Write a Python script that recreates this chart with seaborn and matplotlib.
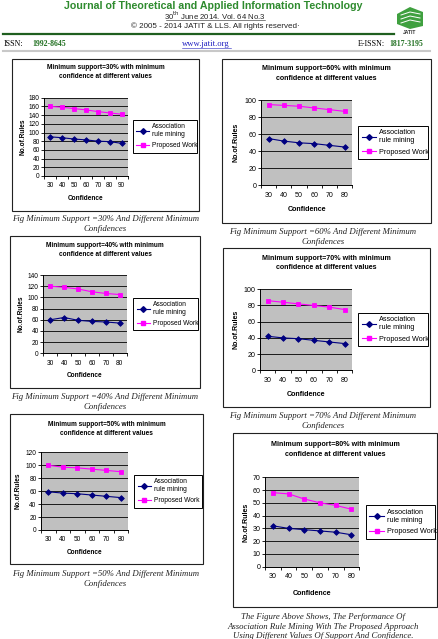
import numpy as np
import pandas as pd
import matplotlib
matplotlib.use("Agg")
import matplotlib.pyplot as plt
import seaborn as sns
from matplotlib.lines import Line2D
from matplotlib.patches import Rectangle, Polygon

# ---- data ----
conf_7 = [30, 40, 50, 60, 70, 80, 90]
conf_6 = [30, 40, 50, 60, 70, 80]

assoc_30 = [90, 88, 85, 83, 80, 79, 75]
proposed_30 = [160, 158, 155, 152, 148, 145, 142]
assoc_40 = [60, 64, 59, 57, 56, 54]
proposed_40 = [120, 118, 115, 110, 107, 105]
assoc_50 = [59, 57, 56, 54, 52, 50]
proposed_50 = [100, 97, 96, 94, 92, 90]
assoc_60 = [55, 52, 50, 49, 47, 45]
proposed_60 = [95, 94, 93, 91, 89, 87]
assoc_70 = [42, 40, 39, 37, 35, 33]
proposed_70 = [86, 84, 82, 80, 78, 75]
assoc_80 = [32, 30, 29, 28, 27, 25]
proposed_80 = [58, 57, 53, 50, 48, 45]

ASSOC = "Association\nrule mining"
PROP = "Proposed Work"
NAVY = "#000080"
MAGENTA = "#FF00FF"
PLOT_BG = "#C0C0C0"
GREEN = "#2E8B2E"

W, H = 438, 639


def fx(x):
    return x / W


def fy(y):
    return 1 - y / H


def rect(x0, x1, y0, y1):
    return [x0 / W, 1 - y1 / H, (x1 - x0) / W, (y1 - y0) / H]


charts = [
    dict(sup="30%", conf=conf_7, assoc=assoc_30, prop=proposed_30, ymax=180, step=20,
         box=(12, 199, 59, 211), plot=(44.3, 127.7, 97.7, 176), leg=(132.7, 196.7, 116, 156.7),
         title_y=(67.7, 76.7), ylab_x=23, xlab_y=198.7, cap_y=(219, 229), cap_x=105.5,
         cap=["Fig Minimum Support =30% And Different Minimum", "Confidences"], big=False),
    dict(sup="60%", conf=conf_6, assoc=assoc_60, prop=proposed_60, ymax=100, step=20,
         box=(222.3, 430.7, 59, 222.7), plot=(261, 352.3, 100.3, 185.3), leg=(358.3, 428.3, 120.7, 164),
         title_y=(68.7, 78.7), ylab_x=236, xlab_y=209, cap_y=(231.7, 241.7), cap_x=323,
         cap=["Fig Minimum Support =60% And Different Minimum", "Confidences"], big=True),
    dict(sup="40%", conf=conf_6, assoc=assoc_40, prop=proposed_40, ymax=140, step=20,
         box=(10, 200, 236, 388.3), plot=(43.3, 126.7, 275, 353.3), leg=(133.3, 198.3, 294.3, 334),
         title_y=(245.3, 254.7), ylab_x=20.7, xlab_y=375.3, cap_y=(396.7, 407), cap_x=105,
         cap=["Fig Minimum Support =40% And Different Minimum", "Confidences"], big=False),
    dict(sup="70%", conf=conf_6, assoc=assoc_70, prop=proposed_70, ymax=100, step=20,
         box=(223.3, 430, 248.3, 407.3), plot=(260, 352.3, 289.3, 370.3), leg=(358.3, 428.3, 309, 350),
         title_y=(258, 267.7), ylab_x=236, xlab_y=394.3, cap_y=(416, 426), cap_x=323,
         cap=["Fig Minimum Support =70% And Different Minimum", "Confidences"], big=True),
    dict(sup="50%", conf=conf_6, assoc=assoc_50, prop=proposed_50, ymax=120, step=20,
         box=(10, 203, 414.3, 564.3), plot=(41, 128.3, 452.3, 530), leg=(134.3, 201.7, 471.7, 510.7),
         title_y=(424, 433.3), ylab_x=18.3, xlab_y=552, cap_y=(574, 584), cap_x=105.5,
         cap=["Fig Minimum Support =50% And Different Minimum", "Confidences"], big=False),
    dict(sup="80%", conf=conf_6, assoc=assoc_80, prop=proposed_80, ymax=70, step=10,
         box=(233.3, 437.3, 433.3, 607.3), plot=(265, 359.3, 477.3, 566.7), leg=(365.7, 435, 499, 545.3),
         title_y=(444.3, 454.3), ylab_x=245.7, xlab_y=593.3, cap_y=(616.7, 626.7, 636), cap_x=323,
         cap=["The Figure Above Shows, The Performance Of",
              "Association Rule Mining With The Proposed Approach",
              "Using Different Values Of Support And Confidence."], big=True),
]

plt.rcParams["font.family"] = ["Liberation Sans", "DejaVu Sans"]

fig = plt.figure(figsize=(W / 100, H / 100), dpi=100)
fig.patch.set_facecolor("white")


def draw_chart(spec):
    fs = 5.1 if spec["big"] else 4.7
    n = len(spec["conf"])
    df = pd.DataFrame({
        "Confidence": spec["conf"] * 2,
        "Rules": spec["assoc"] + spec["prop"],
        "Series": [ASSOC] * n + [PROP] * n,
    })

    bx0, bx1, by0, by1 = spec["box"]
    fig.patches.append(Rectangle((fx(bx0), fy(by1)), (bx1 - bx0) / W, (by1 - by0) / H,
                                 transform=fig.transFigure, fill=False, lw=0.8,
                                 edgecolor="#222222"))

    ax = fig.add_axes(rect(*spec["plot"]))
    ax.set_facecolor(PLOT_BG)
    sns.pointplot(data=df, x="Confidence", y="Rules", hue="Series",
                  hue_order=[ASSOC, PROP], palette=[NAVY, MAGENTA],
                  markers=["D", "s"], linestyles=["-", "-"], errorbar=None,
                  legend=False, markersize=2.9, linewidth=0.8, ax=ax)
    ax.set_xlim(-0.5, n - 0.5)
    ax.set_ylim(0, spec["ymax"])
    ax.set_yticks(np.arange(0, spec["ymax"] + 1, spec["step"]))
    ax.set_xticks(np.arange(n + 1) - 0.5, minor=True)
    ax.tick_params(axis="x", which="major", length=0, pad=4.5, labelsize=fs)
    ax.tick_params(axis="x", which="minor", length=2, width=0.6, direction="out")
    ax.tick_params(axis="y", length=2, width=0.6, pad=1.2, labelsize=fs)
    ax.yaxis.grid(True, color="black", lw=0.6)
    ax.xaxis.grid(False)
    ax.set_axisbelow(True)
    for s in ["top", "right"]:
        ax.spines[s].set_visible(False)
    for s in ["left", "bottom"]:
        ax.spines[s].set_linewidth(0.7)
        ax.spines[s].set_color("black")
    ax.set_xlabel("")
    ax.set_ylabel("")

    handles = [Line2D([], [], color=NAVY, marker="D", ms=2.9, lw=0.8),
               Line2D([], [], color=MAGENTA, marker="s", ms=2.9, lw=0.8)]
    lx0, lx1, ly0, ly1 = spec["leg"]
    leg = ax.legend(handles, [ASSOC, PROP], loc="center",
                    bbox_to_anchor=(fx(lx0), fy(ly1), (lx1 - lx0) / W, (ly1 - ly0) / H),
                    bbox_transform=fig.transFigure, mode="expand", fontsize=fs + 0.1,
                    frameon=True, fancybox=False, edgecolor="black", framealpha=1,
                    borderpad=0.5, labelspacing=0.6, handlelength=2.0,
                    handletextpad=0.4, borderaxespad=0)
    leg.get_frame().set_linewidth(0.7)

    cx = (bx0 + bx1) / 2
    fig.text(fx(cx), fy(spec["title_y"][0]),
             f"Minimum support={spec['sup']} with minimum",
             ha="center", va="center", fontsize=fs, fontweight="bold")
    fig.text(fx(cx), fy(spec["title_y"][1]), "confidence at different values",
             ha="center", va="center", fontsize=fs, fontweight="bold")

    px0, px1, py0, py1 = spec["plot"]
    fig.text(fx(spec["ylab_x"]), fy((py0 + py1) / 2), "No.of.Rules", rotation=90,
             ha="center", va="center", fontsize=fs, fontweight="bold")
    fig.text(fx((px0 + px1) / 2), fy(spec["xlab_y"]), "Confidence",
             ha="center", va="center", fontsize=fs, fontweight="bold")

    for line, yy in zip(spec["cap"], spec["cap_y"]):
        fig.text(fx(spec["cap_x"]), fy(yy), line, ha="center", va="center",
                 fontsize=6.3, style="italic", family="Liberation Serif", color="#222222")


for spec in charts:
    draw_chart(spec)

# ---- page header ----
fig.text(fx(213), fy(5.7), "Journal of Theoretical and Applied Information Technology",
         ha="center", va="center", fontsize=7.7, fontweight="bold", color=GREEN)
fig.text(fx(215), fy(15.5), r"30$^{\rm th}$ June 2014. Vol. 64 No.3",
         ha="center", va="center", fontsize=5.6, color="#222222")
fig.lines.append(Line2D([fx(166), fx(265)], [fy(19.8), fy(19.8)], transform=fig.transFigure,
                        color="#222222", lw=0.4))
fig.text(fx(215), fy(26), "\u00a9 2005 - 2014 JATIT & LLS. All rights reserved\u00b7",
         ha="center", va="center", fontsize=5.8, color="#222222")
fig.lines.append(Line2D([fx(3), fx(394)], [fy(33.5), fy(33.5)], transform=fig.transFigure,
                        color="#1F5F1F", lw=1.6))

# logo
fig.patches.append(Polygon([(fx(397), fy(14)), (fx(410), fy(7)), (fx(423), fy(12)),
                            (fx(423), fy(26)), (fx(410), fy(29)), (fx(397), fy(24))],
                           closed=True, transform=fig.transFigure, facecolor="#3FA03F",
                           edgecolor="none"))
for yy in (15, 19, 23):
    fig.lines.append(Line2D([fx(401), fx(410), fx(420)], [fy(yy), fy(yy - 3), fy(yy - 1)],
                            transform=fig.transFigure, color="white", lw=0.7))
fig.text(fx(410), fy(32), "JATIT", ha="center", va="center", fontsize=3.6,
         fontweight="bold", color="#333333")

serif = ["Liberation Serif", "DejaVu Serif"]
fig.text(fx(4), fy(43.5), "ISSN:", ha="left", va="center", fontsize=5.8, family=serif)
fig.text(fx(32.7), fy(43.5), "1992-8645", ha="left", va="center", fontsize=5.6,
         family=serif, fontweight="bold", color="#1F6F1F")
fig.text(fx(206), fy(43.5), "www.jatit.org", ha="center", va="center", fontsize=6.2,
         family=serif, color="#2020C0")
fig.lines.append(Line2D([fx(182), fx(231)], [fy(47.5), fy(47.5)], transform=fig.transFigure,
                        color="#2020C0", lw=0.4))
fig.text(fx(358), fy(43.5), "E-ISSN:", ha="left", va="center", fontsize=5.8, family=serif)
fig.text(fx(423), fy(43.5), "1817-3195", ha="right", va="center", fontsize=5.6,
         family=serif, fontweight="bold", color="#1F6F1F")
fig.lines.append(Line2D([fx(3), fx(430)], [fy(51), fy(51)], transform=fig.transFigure,
                        color="#C8C8C8", lw=1.5))

fig.savefig("out.png", dpi=100)
